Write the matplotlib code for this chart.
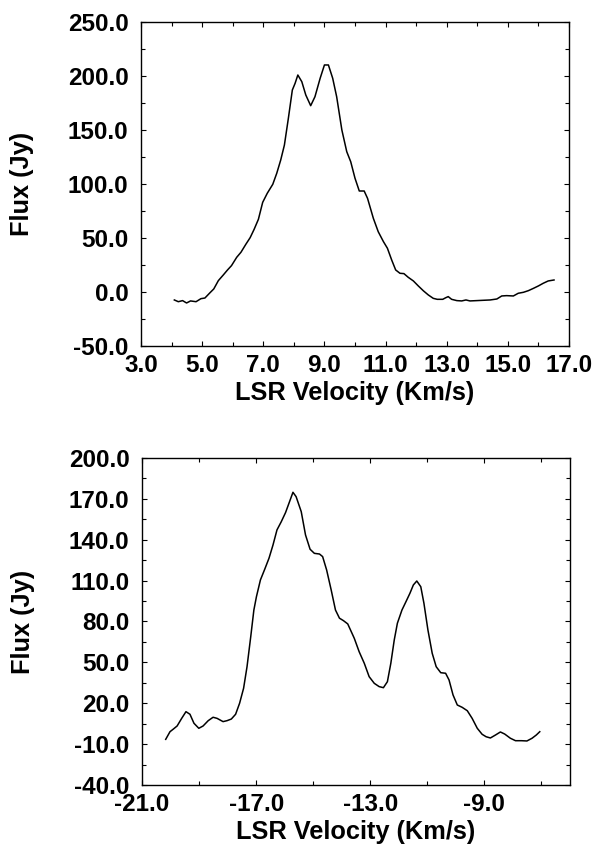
#Zwei Maser-Spektren, Flux gegen LSR-Geschwindigkeit
import numpy as np
import matplotlib
matplotlib.use('Agg')
import matplotlib.pyplot as plt
from matplotlib.ticker import MultipleLocator, FormatStrFormatter

#Daten oberes Spektrum
v_oben = [4.09, 4.22, 4.36, 4.49, 4.62, 4.80, 4.96, 5.09, 5.26, 5.38, 5.53, 5.69, 5.83, 5.96,
          6.13, 6.27, 6.43, 6.57, 6.70, 6.84, 6.98, 7.13, 7.31, 7.44, 7.57, 7.69, 7.82, 7.95,
          8.04, 8.13, 8.26, 8.39, 8.55, 8.69, 8.86, 9.00, 9.13, 9.27, 9.40, 9.57, 9.73, 9.86,
          10.00, 10.14, 10.30, 10.41, 10.60, 10.76, 10.93, 11.06, 11.20, 11.33, 11.47, 11.60,
          11.74, 11.91, 12.07, 12.24, 12.40, 12.56, 12.69, 12.87, 12.97, 13.05, 13.16, 13.33,
          13.49, 13.63, 13.76, 13.98, 14.20, 14.42, 14.64, 14.80, 14.96, 15.18, 15.34, 15.51,
          15.67, 15.84, 16.00, 16.16, 16.32, 16.51]
flux_oben = [-7.4, -9.0, -8.0, -10.2, -8.3, -9.0, -6.2, -5.6, -0.6, 2.8, 10.5, 15.7, 20.4, 24.4,
             32.1, 36.8, 44.2, 50.3, 58.0, 67.3, 83.0, 91.4, 99.7, 109.9, 122.2, 136.0, 160.8, 187.0,
             193.2, 200.9, 194.7, 182.4, 172.5, 180.8, 197.9, 210.2, 210.2, 197.9, 180.8, 150.0, 129.9, 120.6,
             105.3, 93.5, 93.5, 86.7, 68.2, 55.8, 46.6, 40.5, 29.6, 20.4, 17.3, 17.0,
             13.6, 10.2, 5.6, 1.0, -2.8, -5.9, -6.8, -6.8, -5.3, -4.3, -6.8, -8.0,
             -8.3, -7.4, -8.3, -8.0, -7.7, -7.4, -6.5, -3.7, -3.4, -3.7, -1.2, -0.3,
             1.2, 3.4, 5.6, 8.1, 10.2, 11.1]

#Daten unteres Spektrum
v_unten = [-20.17, -20.02, -19.91, -19.77, -19.61, -19.46, -19.32, -19.18, -19.01, -18.86, -18.68,
           -18.51, -18.37, -18.16, -18.02, -17.87, -17.72, -17.58, -17.44, -17.32, -17.19, -17.08,
           -16.99, -16.85, -16.70, -16.55, -16.41, -16.27, -16.12, -15.97, -15.83, -15.71, -15.60,
           -15.42, -15.27, -15.11, -14.96, -14.78, -14.67, -14.53, -14.37, -14.22, -14.08, -13.94,
           -13.79, -13.64, -13.56, -13.39, -13.21, -13.04, -12.86, -12.69, -12.54, -12.40, -12.28,
           -12.16, -12.05, -11.89, -11.75, -11.61, -11.49, -11.37, -11.23, -11.12, -10.98, -10.83,
           -10.69, -10.53, -10.36, -10.24, -10.10, -9.95, -9.78, -9.60, -9.43, -9.25, -9.08,
           -8.94, -8.79, -8.61, -8.44, -8.29, -8.09, -7.91, -7.70, -7.51, -7.33, -7.18, -7.06]
flux_unten = [-6.5, -0.9, 0.9, 3.3, 8.9, 13.8, 11.9, 5.3, 1.6, 3.3, 7.2,
              9.7, 8.9, 6.5, 7.2, 8.4, 11.9, 20.0, 31.0, 46.8, 68.8, 88.4,
              98.2, 110.5, 118.3, 126.4, 136.1, 147.2, 153.2, 159.9, 167.9, 174.8, 171.6,
              160.6, 143.5, 133.0, 130.0, 129.5, 127.6, 117.8, 103.1, 88.4, 82.4, 80.6,
              78.2, 71.3, 67.6, 57.8, 49.3, 39.5, 34.6, 32.2, 31.4, 35.8, 49.3,
              66.4, 78.7, 88.4, 94.5, 100.7, 106.8, 109.7, 105.5, 93.4, 73.8, 56.7,
              46.8, 42.4, 42.0, 37.1, 26.1, 18.7, 17.0, 14.5, 8.9, 1.6, -2.8,
              -4.6, -5.5, -3.3, -1.1, -2.6, -5.7, -7.5, -7.5, -7.7, -5.7, -3.3, -0.9]

plt.rcParams['font.family'] = ['Liberation Sans', 'DejaVu Sans']
plt.rcParams['axes.unicode_minus'] = False

fig = plt.figure(figsize=(5.94, 8.49), dpi=100)
ax1 = fig.add_axes([0.2374, 0.5925, 0.7205, 0.3816])
ax2 = fig.add_axes([0.2391, 0.0754, 0.7205, 0.3852])

#Einstellungen je Panel: (Achse, x, y, xlim, ylim, (x-Schritt, Versatz), x-Neben, (y-Schritt, Versatz), (y-Neben, Versatz))
panels = [
    (ax1, v_oben, flux_oben, (3, 17), (-50, 250), (2, 1), (1, 0), (50, 0), (25, 0)),
    (ax2, v_unten, flux_unten, (-21, -6), (-40, 200), (4, 3), (2, 1), (30, 20), (15, 5)),
]

for ax, x, y, xl, yl, xmaj, xmin, ymaj, ymin in panels:
    ax.plot(x, y, 'k-', lw=1.1)
    ax.set_xlim(xl)
    ax.set_ylim(yl)
    ax.xaxis.set_major_locator(MultipleLocator(xmaj[0], offset=xmaj[1]))
    ax.xaxis.set_minor_locator(MultipleLocator(xmin[0], offset=xmin[1]))
    ax.yaxis.set_major_locator(MultipleLocator(ymaj[0], offset=ymaj[1]))
    ax.yaxis.set_minor_locator(MultipleLocator(ymin[0], offset=ymin[1]))
    ax.xaxis.set_major_formatter(FormatStrFormatter('%.1f'))
    ax.yaxis.set_major_formatter(FormatStrFormatter('%.1f'))
    ax.tick_params(which='both', direction='in', top=True, right=True, width=0.8)
    ax.tick_params(which='major', length=3.5, labelsize=17.5)
    ax.tick_params(axis='y', which='major', pad=9)
    ax.tick_params(axis='x', which='major', pad=5.5)
    ax.tick_params(which='minor', length=3)
    for lab in ax.get_xticklabels() + ax.get_yticklabels():
        lab.set_fontweight('bold')
    for s in ax.spines.values():
        s.set_linewidth(1.0)
    ax.set_xlabel('LSR Velocity (Km/s)', fontsize=18.3, fontweight='bold', labelpad=3)
    ax.set_ylabel('Flux (Jy)', fontsize=18.3, fontweight='bold', labelpad=24)

fig.savefig('out.png', dpi=100)
